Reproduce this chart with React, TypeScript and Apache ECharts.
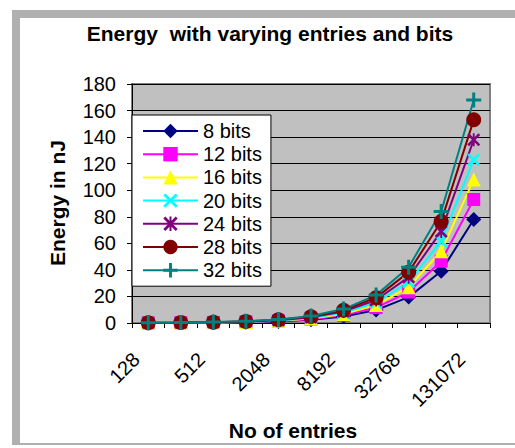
import React, { useEffect, useRef } from "react";
import * as echarts from "echarts";

const categories = ["128", "256", "512", "1024", "2048", "4096", "8192", "16384", "32768", "65536", "131072"];
const bits8 = [0.08, 0.15, 0.3, 0.6, 1.2, 2.4, 4.9, 9.75, 19.5, 39, 78];
const bits12 = [0.09, 0.18, 0.36, 0.73, 1.45, 2.9, 5.8, 11.6, 23.3, 46.5, 93];
const bits16 = [0.1, 0.21, 0.42, 0.84, 1.7, 3.4, 6.75, 13.5, 27, 54, 108];
const bits20 = [0.12, 0.24, 0.48, 0.96, 1.9, 3.85, 7.7, 15.4, 30.8, 61.5, 123];
const bits24 = [0.13, 0.27, 0.54, 1.08, 2.15, 4.3, 8.6, 17.3, 34.5, 69, 138];
const bits28 = [0.15, 0.3, 0.6, 1.2, 2.4, 4.8, 9.6, 19.1, 38.3, 76.5, 153];
const bits32 = [0.16, 0.33, 0.66, 1.3, 2.6, 5.25, 10.5, 21, 42, 84, 168];
const yTicks = { min: 0, max: 180, interval: 20 };

const FONT = "'Liberation Sans', Arial, sans-serif";

const PLUS = "path://M4,0H6V4H10V6H6V10H4V6H0V4H4Z";
const XMARK = "path://M0,1.4L1.4,0L5,3.6L8.6,0L10,1.4L6.4,5L10,8.6L8.6,10L5,6.4L1.4,10L0,8.6L3.6,5Z";
const STAR = "path://M0,1.4L1.4,0L5,3.6L8.6,0L10,1.4L6.4,5L10,8.6L8.6,10L5,6.4L1.4,10L0,8.6L3.6,5ZM4.3,0H5.7V10H4.3Z";

const seriesDefs = [
  { name: "8 bits", data: bits8, color: "#000080", symbol: "diamond", size: 15 },
  { name: "12 bits", data: bits12, color: "#ff00ff", symbol: "rect", size: 13 },
  { name: "16 bits", data: bits16, color: "#ffff00", symbol: "triangle", size: 14 },
  { name: "20 bits", data: bits20, color: "#00ffff", symbol: XMARK, size: 13 },
  { name: "24 bits", data: bits24, color: "#800080", symbol: STAR, size: 13 },
  { name: "28 bits", data: bits28, color: "#800000", symbol: "circle", size: 15 },
  { name: "32 bits", data: bits32, color: "#008080", symbol: PLUS, size: 15 },
];

export default function App() {
  const ref = useRef<HTMLDivElement>(null);
  useEffect(() => {
    if (!ref.current) return;
    const chart = echarts.init(ref.current, undefined, { renderer: "svg" });
    const frame = "#b0b0b0";
    chart.setOption({
      animation: false,
      backgroundColor: "#ffffff",
      textStyle: { fontFamily: FONT },
      graphic: [
        { type: "rect", shape: { x: 12, y: 10, width: 503, height: 8 }, style: { fill: frame } },
        { type: "rect", shape: { x: 12, y: 10, width: 8, height: 435 }, style: { fill: frame } },
        { type: "rect", shape: { x: 12, y: 443, width: 503, height: 2 }, style: { fill: frame } },
        {
          type: "text",
          x: 270,
          y: 33,
          style: {
            text: "Energy  with varying entries and bits",
            fill: "#000",
            fontSize: 21,
            fontWeight: "bold",
            fontFamily: FONT,
            textAlign: "center",
            textVerticalAlign: "middle",
          },
        },
        {
          type: "text",
          x: 293,
          y: 430,
          style: {
            text: "No of entries",
            fill: "#000",
            fontSize: 21,
            fontWeight: "bold",
            fontFamily: FONT,
            textAlign: "center",
            textVerticalAlign: "middle",
          },
        },
        {
          type: "text",
          x: 57,
          y: 203,
          rotation: Math.PI / 2,
          style: {
            text: "Energy in nJ",
            fill: "#000",
            fontSize: 21,
            fontWeight: "bold",
            fontFamily: FONT,
            textAlign: "center",
            textVerticalAlign: "middle",
          },
        },
      ],
      grid: {
        left: 132,
        right: 25,
        top: 84,
        bottom: 125,
        show: true,
        backgroundColor: "#c0c0c0",
        borderColor: "#808080",
        borderWidth: 2,
      },
      legend: {
        orient: "vertical",
        left: 132,
        top: 115,
        itemWidth: 55,
        itemHeight: 18,
        itemGap: 3.2,
        padding: [6, 9, 6, 10],
        backgroundColor: "#ffffff",
        borderColor: "#000000",
        borderWidth: 1,
        textStyle: { fontSize: 20, color: "#000", fontFamily: FONT },
        data: seriesDefs.map((s) => s.name),
      },
      xAxis: {
        type: "category",
        data: categories,
        boundaryGap: true,
        axisLine: { show: true, lineStyle: { color: "#000", width: 1 } },
        axisTick: { show: true, interval: 0, length: 5, lineStyle: { color: "#000" } },
        axisLabel: {
          interval: 1,
          rotate: 45,
          margin: 21,
          padding: [0, 17, 0, 0],
          fontSize: 20,
          color: "#000",
          fontFamily: FONT,
        },
        splitLine: { show: false },
      },
      yAxis: {
        type: "value",
        min: yTicks.min,
        max: yTicks.max,
        interval: yTicks.interval,
        axisLine: { show: true, lineStyle: { color: "#000", width: 1 } },
        axisTick: { show: true, length: 5, lineStyle: { color: "#000" } },
        axisLabel: { margin: 16, fontSize: 20, color: "#000", fontFamily: FONT },
        splitLine: { show: true, lineStyle: { color: "#000", width: 1 } },
      },
      series: seriesDefs.map((s) => ({
        name: s.name,
        type: "line",
        data: s.data,
        symbol: s.symbol,
        symbolSize: s.size,
        showAllSymbol: true,
        lineStyle: { color: s.color, width: 2 },
        itemStyle: { color: s.color, borderWidth: 0 },
        emphasis: { disabled: true },
      })),
    });
    return () => chart.dispose();
  }, []);
  return <div ref={ref} style={{ width: 515, height: 448, position: "absolute", left: 0, top: 0 }} />;
}
